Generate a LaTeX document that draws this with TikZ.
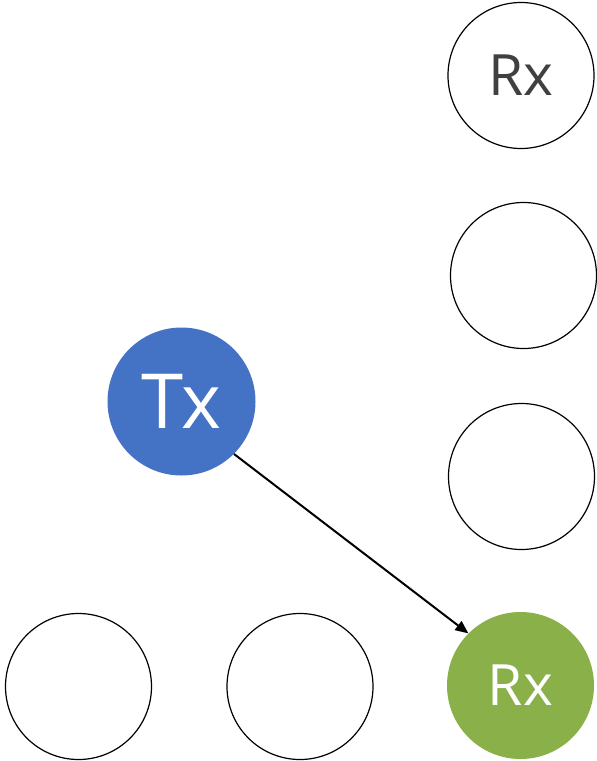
\documentclass[tikz,border=0pt]{standalone}
\usepackage{fontspec}
\setmainfont{Open Sans}
\usetikzlibrary{arrows.meta}
\definecolor{txblue}{HTML}{4472C4}
\definecolor{rxgreen}{HTML}{8AB04A}
\definecolor{txtgray}{HTML}{404040}
\tikzset{
  node/.style={circle, draw=black, line width=1.2pt, minimum size=146pt, inner sep=0pt, fill=white},
  txnode/.style={circle, fill=txblue, draw=none, minimum size=148pt, inner sep=0pt, text=white, font=\fontsize{76}{80}\selectfont},
  rxnode/.style={circle, fill=rxgreen, draw=none, minimum size=147pt, inner sep=0pt, text=white, font=\fontsize{57}{60}\selectfont},
  link/.style={line width=2pt, -{Triangle[length=13pt,width=11pt]}}
}
\begin{document}
\begin{tikzpicture}[x=1pt,y=-1pt]
\useasboundingbox (0,0) rectangle (597,761);
\node[node, text=txtgray, font=\fontsize{57}{60}\selectfont] (rx1) at (521,75.5) {Rx};
\node[node] (n2) at (523.5,275.5) {};
\node[node] (n3) at (521.5,476.5) {};
\node[rxnode] (rx2) at (520.5,685.5) {Rx};
\node[txnode] (tx) at (181.5,401.5) {Tx};
\node[node] (b1) at (78.5,686.5) {};
\node[node] (b2) at (300,686.5) {};
\draw[link] (tx.-45) -- (rx2.135);
\end{tikzpicture}
\end{document}
